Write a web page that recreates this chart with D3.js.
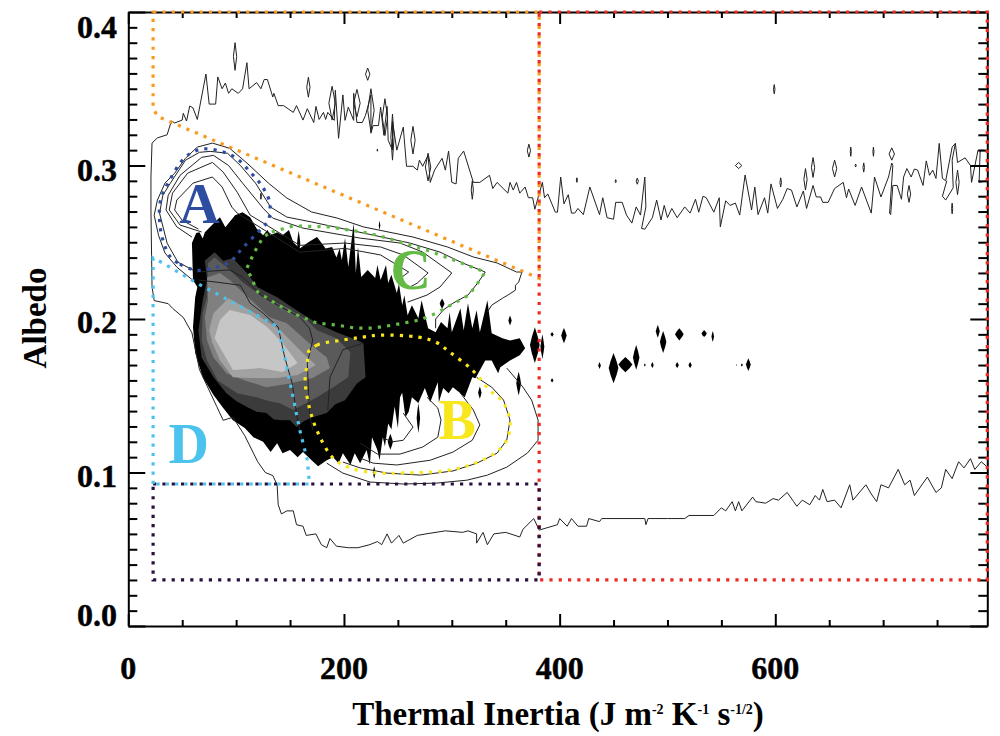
<!DOCTYPE html>
<html><head><meta charset="utf-8">
<script src="https://cdn.jsdelivr.net/npm/d3@7/dist/d3.min.js"></script>
<style>html,body{margin:0;padding:0;background:#fff}svg{display:block}text{font-family:"Liberation Serif",serif;font-weight:bold;fill:#000}</style>
</head><body><div id="chart"></div>
<script>
const xTicks=d3.range(0,751,50), xLabels=[0,200,400,600];
const yTicks=d3.range(0,41).map(d=>d/100), yLabels=[0,0.1,0.2,0.3,0.4];

const density1=[[59,.2495],[63,.256],[66,.2565],[69,.2525],[71,.2565],[82,.2643],[85,.2663],[90,.2597],[99,.2676],[106,.2695],[113,.2663],[119,.259],[125,.2545],[129,.258],[132,.2545],[138,.2565],[143,.2545],[149,.258],[153,.25],[159,.246],[167,.25],[175,.2534],[183,.246],[189,.2469],[193,.24],[196,.246],[198,.2383],[201,.2527],[204,.2339],[209,.2625],[211,.23],[213,.2469],[216,.2274],[222,.232],[229,.2267],[231,.2352],[234,.2254],[239,.2352],[241,.2234],[244,.2288],[249,.217],[251,.223],[254,.209],[256,.2155],[259,.2025],[263,.209],[269,.2005],[272,.2122],[278,.194],[285,.1914],[290,.198],[296,.194],[298,.2044],[300,.1914],[308,.207],[311,.1927],[315,.2103],[319,.194],[323,.2057],[326,.1914],[333,.2122],[337,.1907],[347,.1875],[354,.186],[363,.1875],[368,.181],[363,.1764],[354,.173],[345,.1686],[343,.1647],[337,.173],[331,.173],[322,.1614],[319,.162],[312,.149],[308,.1517],[301,.1556],[297,.1517],[292,.155],[288,.1458],[287,.1588],[280,.1458],[275,.155],[269,.1452],[263,.149],[260,.1395],[257,.136],[254,.152],[252,.149],[250,.129],[247,.143],[244,.128],[241,.132],[238,.117],[236,.123],[233,.108],[231,.1146],[226,.123],[224,.105],[221,.1146],[215,.106],[210,.1126],[206,.105],[199,.1126],[195,.106],[190,.11],[184,.108],[176,.104],[170,.108],[162,.1133],[157,.11],[150,.1146],[143,.1126],[138,.119],[132,.1133],[125,.12],[116,.123],[108,.129],[97,.134],[88,.142],[79,.1505],[69,.162],[62,.178],[60,.1948],[62,.214],[64,.2208],[60,.2254]];
const density2=[[71,.238],[80,.2435],[88,.238],[97,.2396],[110,.23],[120,.2207],[138,.2142],[156,.2057],[175,.1973],[193,.1914],[206,.188],[218,.1843],[220,.162],[212,.158],[201,.147],[192,.1445],[184,.1387],[171,.136],[163,.1335],[156,.1296],[150,.134],[143,.134],[135,.1345],[128,.1387],[119,.1395],[110,.1426],[100,.1465],[91,.1517],[79,.162],[68,.175],[65,.1927],[69,.2122],[73,.2254]];
const density3=[[74,.2365],[80,.24],[91,.234],[106,.224],[125,.2142],[147,.2077],[166,.199],[175,.1927],[193,.1875],[206,.1784],[204,.162],[190,.1556],[175,.149],[163,.1445],[153,.1407],[141,.145],[130,.1465],[119,.149],[101,.1517],[83,.16],[73,.173],[68,.186],[69,.204],[73,.2142]];
const density4=[[73,.227],[85,.23],[94,.2254],[111,.2142],[131,.2012],[147,.1973],[168,.184],[184,.175],[187,.168],[171,.1615],[150,.158],[128,.1556],[108,.16],[91,.1647],[79,.175],[73,.186],[71,.2012],[74,.2122]];
const density5=[[75,.1927],[79,.2038],[93,.2135],[116,.2044],[141,.1927],[162,.1777],[174,.17],[157,.1635],[138,.1615],[113,.1615],[97,.162],[85,.173],[78,.1843]];
const density6=[[80,.1875],[85,.1993],[94,.2058],[113,.2026],[129,.1947],[143,.1843],[157,.1713],[143,.1654],[122,.168],[97,.1667],[88,.1778]];

const outerLower=[[22,.221],[24,.212],[37,.21],[41,.207],[51,.201],[59,.191],[66,.167],[82,.143],[88,.134],[97,.136],[108,.124],[120,.107],[127,.1],[134,.098],[138,.092],[139,.079],[142,.073],[147,.075],[153,.075],[156,.066],[162,.065],[165,.059],[174,.06],[179,.053],[184,.051],[187,.057],[193,.052],[204,.051],[213,.051],[224,.053],[231,.055],[235,.053],[240,.06],[244,.054],[251,.059],[255,.054],[268,.059],[276,.06],[294,.062],[310,.061],[315,.062],[323,.06],[323,.054],[329,.061],[333,.053],[339,.06],[350,.061],[363,.058],[366,.063],[376,.07],[381,.0625],[398,.066],[400,.07],[407,.065],[411,.07],[417,.065],[425,.065],[427,.07],[437,.068],[439,.07],[479,.07],[480,.066],[482,.07],[500,.07],[516,.07],[520,.072],[543,.072],[550,.077],[554,.075],[560,.081],[563,.075],[566,.081],[569,.075],[579,.084],[582,.081],[591,.08],[598,.083],[603,.082],[611,.087],[617,.081],[620,.078],[625,.082],[632,.079],[637,.085],[641,.082],[644,.089],[648,.081],[655,.082],[661,.077],[669,.092],[672,.082],[684,.092],[689,.086],[694,.081],[698,.092],[705,.09],[714,.102],[720,.092],[725,.095],[729,.085],[737,.093],[741,.097],[749,.087],[754,.09],[758,.102],[764,.096],[770,.107],[775,.103],[781,.109],[785,.102],[791,.107],[796,.104]];
const outerUpper=[[22,.221],[21,.271],[21,.2925],[22,.3146],[27,.318],[36,.32],[40,.329],[43,.3277],[50,.3296],[51,.334],[54,.329],[57,.3388],[60,.3375],[64,.33],[72,.3596],[75,.34],[81,.34],[83,.3577],[87,.35],[90,.3537],[93,.347],[96,.35],[102,.347],[106,.35],[110,.367],[112,.35],[119,.354],[123,.35],[126,.356],[129,.356],[134,.3446],[135,.347],[139,.339],[144,.339],[153,.3346],[156,.339],[162,.3296],[166,.337],[172,.328],[174,.3385],[177,.33],[181,.3346],[183,.33],[185,.3346],[191,.3294],[192,.349],[195,.3177],[199,.346],[201,.3294],[204,.338],[209,.3294],[209,.347],[212,.328],[217,.328],[220,.3327],[225,.346],[225,.321],[227,.326],[232,.326],[234,.338],[237,.3197],[240,.3385],[241,.3164],[245,.31],[245,.329],[249,.31],[255,.325],[258,.2995],[264,.2995],[268,.297],[270,.3035],[273,.2995],[278,.3066],[280,.289],[284,.297],[291,.3047],[294,.297],[297,.3094],[300,.289],[304,.288],[306,.3047],[311,.3094],[320,.289],[326,.289],[335,.2936],[338,.285],[342,.289],[352,.282],[354,.289],[357,.284],[360,.289],[363,.282],[368,.286],[371,.279],[375,.279],[377,.2715],[384,.289],[386,.279],[389,.2815],[396,.2696],[398,.2696],[401,.2925],[404,.275],[408,.281],[411,.269],[414,.269],[417,.272],[422,.268],[428,.286],[437,.268],[440,.279],[444,.266],[450,.265],[452,.276],[458,.276],[462,.2677],[467,.2625],[471,.273],[475,.2677],[479,.2925],[480,.273],[476,.259],[479,.2585],[486,.266],[490,.2775],[494,.2645],[497,.274],[500,.266],[504,.272],[509,.266],[516,.273],[521,.269],[526,.278],[529,.2696],[533,.28],[536,.279],[543,.2696],[548,.279],[549,.26],[554,.277],[558,.274],[563,.2755],[567,.2677],[572,.2938],[578,.271],[581,.286],[584,.268],[590,.279],[593,.269],[596,.288],[602,.272],[607,.278],[611,.285],[615,.284],[620,.273],[626,.2834],[629,.272],[635,.287],[638,.2795],[642,.2795],[644,.276],[649,.276],[655,.285],[663,.289],[666,.279],[668,.2847],[674,.274],[680,.286],[689,.269],[692,.2925],[698,.2795],[705,.2925],[708,.3016],[709,.3],[706,.269],[707,.268],[709,.287],[713,.287],[717,.278],[719,.2925],[722,.298],[726,.2925],[729,.2977],[732,.297],[737,.287],[740,.303],[743,.2936],[746,.297],[749,.2916],[752,.3144],[755,.2916],[758,.29],[764,.312],[767,.3144],[769,.302],[776,.305],[781,.3],[782,.289],[788,.31],[794,.31]];
const outerBranchA=[[767,.3144],[764,.3035],[765,.2855],[758,.2775],[755,.28],[759,.29]];
const outerBranchB=[[790,.31],[789,.289],[796,.29]];

const ringA1=[[62,.224],[45,.2338],[34,.243],[28,.2546],[24,.2676],[27,.2775],[34,.2885],[43,.295],[53,.3047],[64,.312],[78,.3146],[94,.3112],[110,.3016],[130,.2885],[147,.2788],[170,.2697],[194,.2657],[218,.26],[264,.2534],[296,.2469],[320,.2404],[342,.2365],[360,.2306],[365,.2306],[362,.224],[359,.222],[359,.2188],[352,.2156],[347,.2135],[337,.209],[333,.2045]];
const ringA2=[[60,.2319],[46,.237],[36,.2494],[29,.2689],[32,.2806],[39,.2885],[53,.3034],[66,.3086],[76,.3092],[92,.308],[104,.3],[118,.2885],[132,.2729],[147,.2664],[170,.2632],[218,.256],[261,.2495],[289,.2436],[310,.2365],[331,.2306],[324,.2234],[315,.2156],[301,.2103],[292,.2058],[285,.2],[285,.194]];
const ringA3=[[59,.2534],[45,.26],[35,.271],[37,.2806],[48,.2936],[68,.3053],[79,.3066],[93,.3],[106,.2885],[125,.2722],[134,.2657],[162,.2592],[215,.2527],[252,.2495],[273,.2436],[300,.23],[289,.2208],[277,.2156],[259,.211]];
const ringA4=[[68,.2567],[48,.2612],[38,.271],[41,.282],[55,.295],[78,.302],[88,.2957],[101,.2826],[113,.2677],[159,.248],[201,.2495],[234,.2469],[255,.2417],[278,.23],[268,.2234],[259,.22]];
const ringA5=[[65,.2586],[50,.2643],[43,.271],[45,.2775],[60,.2885],[78,.2925],[87,.286],[96,.2729],[101,.269],[159,.2435],[201,.246],[234,.2417],[260,.2306],[254,.2274]];
const ringB0=[[184,.1061],[199,.0996],[224,.0938],[255,.0925],[286,.0931],[314,.095],[333,.0983],[351,.1035],[370,.1126],[380,.121],[380,.1342],[374,.1472],[366,.1556],[351,.168]];
const ringB1=[[199,.1068],[215,.103],[240,.0996],[271,.0983],[301,.101],[323,.106],[342,.1126],[351,.1212],[354,.1342],[348,.1472],[337,.1556],[323,.162]];
const ringB2=[[215,.1094],[227,.1061],[249,.1049],[280,.108],[301,.1133],[319,.121],[326,.131],[320,.1407],[308,.1517]];
const ringB3=[[215,.1192],[231,.112],[252,.112],[273,.1166],[287,.123],[290,.1342],[287,.142],[277,.149]];
const ringB4=[[236,.1225],[245,.12],[255,.121],[264,.1296],[255,.1387]];
const innerLine1=[[64,.2306],[94,.232],[106,.2273],[125,.2142],[159,.2012],[168,.194],[171,.1863],[166,.1713],[168,.1387],[171,.1277]];
const innerLine2=[[65,.2254],[82,.224],[104,.222],[113,.2103],[125,.2038],[139,.1947],[145,.1752],[152,.158],[157,.134],[161,.121]];
const innerLine3=[[218,.1843],[199,.18],[187,.162],[185,.1407]];

// island: centre inertia, centre albedo, half width, half height
const openIslands=[[99,.371,1.5,.009],[167,.351,1.5,.0065],[222,.3595,2,.004],[371.5,.3097,1.5,.0042],[566,.3,3,.002],[416,.2905,.5,.0015],[452,.2898,.5,.001],[472,.2898,1,.002],[605,.289,.7,.003],[628,.291,1.5,.007],[635,.2987,1.5,.0065],[655,.298,2,.0055],[670,.309,.5,.003],[674.5,.3,.5,.001],[682,.2987,.7,.003],[691,.309,.5,.003],[708,.3075,2.5,.004],[724,.2815,1.5,.0055],[769,.289,1.5,.008],[764,.272,.5,.0035],[599,.3497,.7,.003],[231,.31,.3,.0007],[319,.284,1,.006],[278,.299,2.5,.009],[189,.3406,3,.011],[212,.3406,3,.009],[225,.336,3,.014],[238,.3315,2.5,.012],[245,.3185,1.5,.015],[264,.3165,2,.009],[123,.28,.5,.002]];
const solidIslands=[[377,.183,4.5,.0117],[384,.182,1.8,.008],[393,.19,1.3,.0016],[404,.1892,2.5,.005],[393,.16,1.3,.0014],[437,.1697,1.2,.0023],[450,.168,4.5,.0098],[461,.1703,6.5,.005],[471,.175,3,.008],[479,.17,.8,.001],[486,.17,1.2,.002],[491,.192,1.8,.0042],[496,.185,3,.0072],[511,.19,4,.004],[509,.17,1.5,.002],[521,.17,1.5,.002],[534,.1905,2.5,.0023],[542,.1886,1.2,.0036],[569,.17,.9,.001],[564,.17,.4,.0005],[575,.1703,2.2,.0042],[354,.199,1.5,.0033],[269,.1355,1.6,.0098],[243,.12,2.4,.0052],[228,.1,1.2,.004],[326,.152,1.6,.004],[362,.158,2.2,.0078],[291,.21,2.2,.0033],[233,.261,.7,.003],[158,.2495,1.5,.008]];

const boxOrange=[[23,.4],[381,.4],[381,.2265],[35,.3296],[27,.332],[23,.3375]];
const boxRed=[[381,.4],[796.6,.4],[796.6,.03],[381,.03]];
const boxPurple=[[23,.0925],[381,.0925],[381,.03],[23,.03]];
const boxCyan=[[23,.0925],[23,.2397],[32,.2365],[62,.224],[139,.1948],[145,.1752],[152,.1518],[159,.1277],[166,.1081],[168,.0925]];
const boxBlue=[[62,.2319],[46,.2365],[39,.2404],[32,.2515],[29,.2645],[30,.2775],[38,.29],[53,.3055],[68,.3107],[85,.3094],[100,.3049],[113,.2958],[124,.2866],[131,.2762],[130,.2645],[124,.2593],[106,.2463],[94,.2371],[79,.2332]];
const boxGreen=[[133,.2567],[153,.2606],[187,.26],[222,.256],[240,.2528],[261,.2482],[282,.2436],[331,.2306],[324,.2234],[316,.2156],[301,.2098],[286,.2039],[270,.1993],[245,.196],[227,.1941],[210,.1941],[194,.196],[175,.1973],[152,.2039],[136,.2104],[120,.2176],[110,.2332],[117,.2436],[125,.2534]];
const boxYellow=[[167,.1785],[175,.183],[199,.1863],[217,.1882],[233,.1895],[269,.1882],[285,.185],[298,.1785],[319,.1667],[335,.1537],[348,.1453],[354,.1329],[351,.1212],[340,.1127],[317,.1049],[292,.101],[255,.0997],[231,.0997],[206,.1029],[190,.1094],[176,.1257],[168,.142],[164,.1602],[166,.1713]];

const regionLabels=[["A",66,.2625],["B",305,.1215],["C",262,.2195],["D",56,.1065]];
const regionColors={A:"#2f4da0",B:"#f8e71c",C:"#63bb46",D:"#4cc3ec"};

const W=1000,H=736,L=128.3,R=987.3,T=12,B=626;
const x=d3.scaleLinear().domain([0,796.6]).range([L,R]);
const y=d3.scaleLinear().domain([0,0.4]).range([B,T]);
const svg=d3.select("#chart").append("svg").attr("width",W).attr("height",H);
const line=d3.line().x(d=>x(d[0])).y(d=>y(d[1]));
const closed=d3.line().x(d=>x(d[0])).y(d=>y(d[1])).curve(d3.curveLinearClosed);
const smooth=d3.line().x(d=>x(d[0])).y(d=>y(d[1])).curve(d3.curveCatmullRomClosed.alpha(.5));

// density levels
[[density1,"#000"],[density2,"#3b3b3b"],[density3,"#5a5a5a"],[density4,"#808080"],[density5,"#a2a2a2"],[density6,"#c6c6c6"]].forEach(([p,c])=>{
  svg.append("path").attr("d",closed(p)).attr("fill",c);
});
const lens=i=>[[i[0],i[1]+i[3]],[i[0]+i[2],i[1]],[i[0],i[1]-i[3]],[i[0]-i[2],i[1]]];
const spindle=i=>{const [a,b,w,h]=i;return [[a,b+h],[a+.62*w,b+.45*h],[a+w,b],[a+.62*w,b-.45*h],[a,b-h],[a-.62*w,b-.45*h],[a-w,b],[a-.62*w,b+.45*h]];};
svg.append("g").selectAll("path").data(solidIslands).join("path").attr("d",d=>closed(spindle(d))).attr("fill","#000");

// contour lines
const thin=svg.append("g").attr("fill","none").attr("stroke","#222").attr("stroke-width",1).attr("stroke-linejoin","round");
[outerLower,outerUpper,outerBranchA,outerBranchB,ringA1,ringA2,ringA3,ringA4,ringA5,ringB0,ringB1,ringB2,ringB3,ringB4,innerLine1,innerLine2,innerLine3].forEach(p=>thin.append("path").attr("d",line(p)));
thin.selectAll("path.isl").data(openIslands).join("path").attr("class","isl").attr("d",d=>closed(lens(d)));

// axes
const axisG=svg.append("g");
function styleAxis(g,isMajor,maj,min){
  g.select(".domain").attr("stroke","#000").attr("stroke-width",2);
  g.selectAll(".tick line").attr("stroke","#000").attr("stroke-width",2).each(function(d){
    const s=d3.select(this), len=isMajor(d)?maj:min;
    if(s.attr("y2")!==null&&+s.attr("y2")!==0) s.attr("y2",Math.sign(+s.attr("y2"))*len);
    if(s.attr("x2")!==null&&+s.attr("x2")!==0) s.attr("x2",Math.sign(+s.attr("x2"))*len);
  });
  g.selectAll(".tick text").remove();
}
const xMaj=d=>d%200===0, yMaj=d=>Math.round(d*100)%10===0;
axisG.append("g").attr("transform",`translate(0,${B})`).call(d3.axisTop(x).tickValues(xTicks).tickSizeOuter(0)).call(g=>styleAxis(g,xMaj,12,6));
axisG.append("g").attr("transform",`translate(0,${T})`).call(d3.axisBottom(x).tickValues(xTicks).tickSizeOuter(0)).call(g=>styleAxis(g,xMaj,12,6));
axisG.append("g").attr("transform",`translate(${L},0)`).call(d3.axisRight(y).tickValues(yTicks).tickSizeOuter(0)).call(g=>styleAxis(g,yMaj,17,9));
axisG.append("g").attr("transform",`translate(${R},0)`).call(d3.axisLeft(y).tickValues(yTicks).tickSizeOuter(0)).call(g=>styleAxis(g,yMaj,17,9));

// tick labels
const labelShift=new Map([[0,0],[0.1,14.5],[0.2,14],[0.3,15.4],[0.4,26]]);
const heavy=g=>g.style("stroke","#000").style("stroke-width",.45);
svg.append("g").call(heavy).selectAll("text").data(xLabels).join("text").attr("x",d=>x(d)).attr("y",679).attr("text-anchor","middle").attr("font-size",32).text(d=>d);
svg.append("g").call(heavy).selectAll("text").data(yLabels).join("text").attr("x",117).attr("y",d=>y(d)+labelShift.get(d)).attr("text-anchor","end").attr("font-size",32).text(d=>d.toFixed(1));

// dotted region outlines
const dots=svg.append("g").attr("fill","none").attr("stroke-width",3.2).attr("stroke-dasharray","3.2 6.1");
dots.append("path").attr("d",closed(boxOrange)).attr("stroke","#f79a1e");
dots.append("path").attr("d",closed(boxRed)).attr("stroke","#ee2a24");
dots.append("path").attr("d",closed(boxPurple)).attr("stroke","#2a1042");
dots.append("path").attr("d",closed(boxCyan)).attr("stroke","#4cc3ec");
dots.append("path").attr("d",smooth(boxBlue)).attr("stroke","#2f4da0");
dots.append("path").attr("d",closed(boxGreen)).attr("stroke","#63bb46");
dots.append("path").attr("d",smooth(boxYellow)).attr("stroke","#f8e71c");

// region letters
svg.append("g").selectAll("text").data(regionLabels).join("text").attr("x",d=>x(d[1])).attr("y",d=>y(d[2])).attr("text-anchor","middle").attr("font-size",56).style("fill",d=>regionColors[d[0]]).text(d=>d[0]);

// axis titles
const xt=svg.append("text").attr("x",558).attr("y",725).attr("text-anchor","middle").attr("font-size",33);
[["Thermal Inertia (J m",0],["-2",1],[" K",0],["-1",1],[" s",0],["-1/2",1],[")",0]].forEach(([t,sup],i,arr)=>{
  const prev=i>0?arr[i-1][1]:0;
  const s=xt.append("tspan").text(t);
  s.attr("dy",(sup-prev)*-11);
  if(sup) s.attr("font-size",14);
});
svg.append("text").attr("transform","translate(46,318) rotate(-90)").attr("text-anchor","middle").attr("font-size",33).text("Albedo");
</script></body></html>
